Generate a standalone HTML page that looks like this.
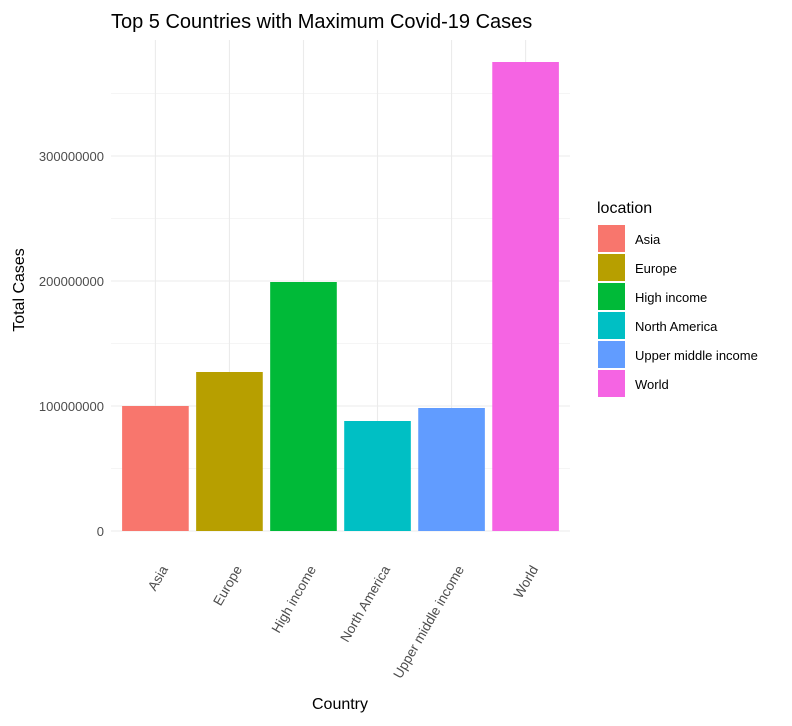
<!DOCTYPE html>
<html><head><meta charset="utf-8"><style>
body{margin:0;background:#fff;}
svg text{font-family:"Liberation Sans",Arial,sans-serif;}
</style></head><body>
<svg id="chart" width="792" height="721" xmlns="http://www.w3.org/2000/svg">
<rect width="792" height="721" fill="#fff"/>
<text x="111" y="28" font-size="20" fill="#000">Top 5 Countries with Maximum Covid-19 Cases</text>
<g id="grid"></g><g id="bars"></g><g id="yticks"></g><g id="xticks"></g>
<text x="340" y="709" font-size="16" text-anchor="middle" fill="#000">Country</text>
<text transform="translate(24,290) rotate(-90)" font-size="16" text-anchor="middle" fill="#000">Total Cases</text>
<g id="legend">
<text x="597" y="213" font-size="16" fill="#000">location</text>
</g>
</svg>
<script>
const categories=["Asia","Europe","High income","North America","Upper middle income","World"];
const values=[100000000,127200000,199200000,88000000,98400000,375200000];
const colors=["#F8766D","#B79F00","#00BA38","#00BFC4","#619CFF","#F564E3"];
const yTicks=[0,100000000,200000000,300000000];
const yTickLabels=["0","100000000","200000000","300000000"];
const NS="http://www.w3.org/2000/svg";
const pL=111,pR=570,pT=40,pB=531;
const step=(pR-pL)/6.2;
const x=i=>pL+step*(0.6+i);
const y=v=>pB-v*125/100000000;
function mk(t,a,p){const e=document.createElementNS(NS,t);for(const k in a)e.setAttribute(k,a[k]);p.appendChild(e);return e;}
const grid=document.getElementById('grid');
for(let k=0;k<8;k++){const v=k*50000000;const yy=y(v);if(yy<pT)break;
const l=mk('line',{x1:pL,x2:pR,y1:yy,y2:yy,stroke:'#ebebeb','stroke-width':k%2?0.6:1.1},grid);

}
categories.forEach((c,i)=>{const l=mk('line',{x1:x(i),x2:x(i),y1:pT,y2:pB,stroke:'#ebebeb','stroke-width':1.1},grid);

});
const bars=document.getElementById('bars');
values.forEach((v,i)=>{const w=step*0.9;const r=mk('rect',{x:x(i)-w/2,y:y(v),width:w,height:pB-y(v),fill:colors[i]},bars);

});
const yt=document.getElementById('yticks');
yTicks.forEach((v,i)=>{const t=mk('text',{x:104,y:y(v)+5,'font-size':13,'text-anchor':'end',fill:'#4d4d4d'},yt);t.textContent=yTickLabels[i];

});
const xt=document.getElementById('xticks');
categories.forEach((c,i)=>{const t=mk('text',{transform:`translate(${x(i)+13},${569}) rotate(-60)`,'font-size':13.5,'text-anchor':'end',fill:'#4d4d4d'},xt);t.textContent=c;

});
const lg=document.getElementById('legend');
categories.forEach((c,i)=>{const yy=225+i*29;
const r=mk('rect',{x:598,y:yy,width:27,height:27,fill:colors[i]},lg);


const t=mk('text',{x:635,y:yy+19,'font-size':13,fill:'#000'},lg);t.textContent=c;

});
</script>
</body></html>
